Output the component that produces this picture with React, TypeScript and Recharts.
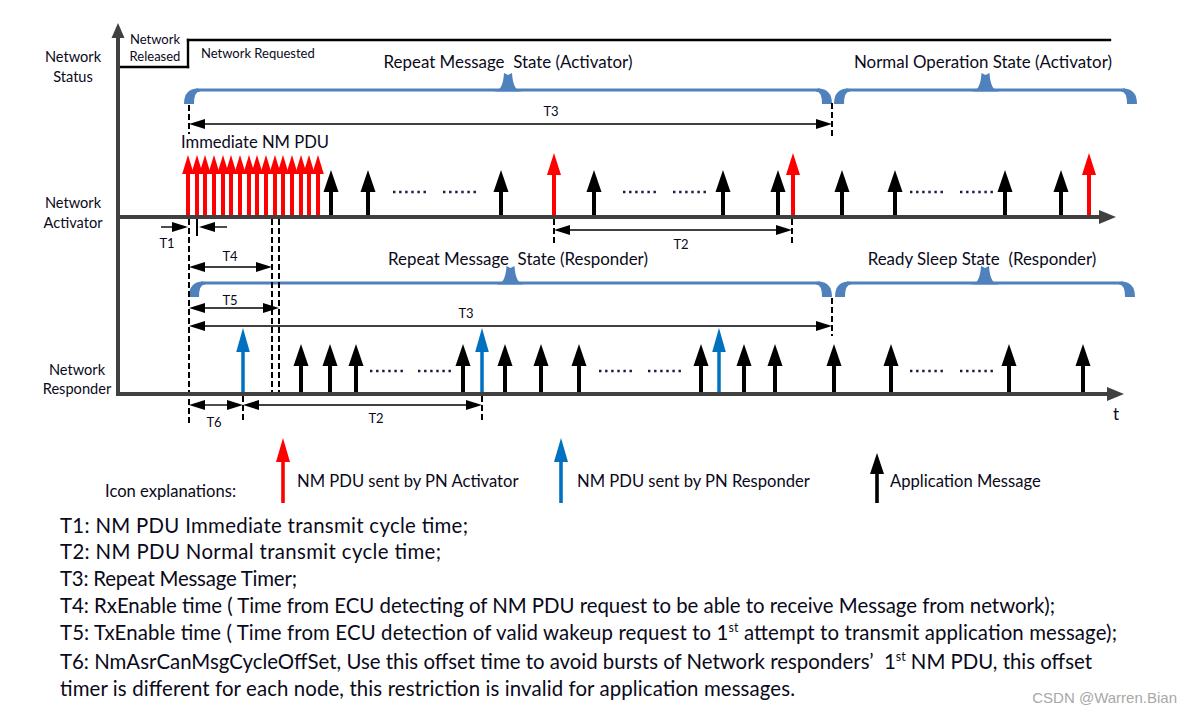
import React from 'react';
import { ComposedChart, XAxis, YAxis, ReferenceLine } from 'recharts';

const CHART_W = 1191;
const CHART_H = 714;

// ===== data: time on x, signal level on y =====
const timeDomain: [number, number] = [0, 1191];
const levelDomain: [number, number] = [0, 714];

const timeOrigin = 118;
const axisTopLevel = 23;
const activatorAxisEnd = 1116;
const responderAxisEnd = 1124;
const laneActivator = 217;
const laneResponder = 394;

// network status step
const statusReleasedLevel = 67;
const statusRequestedLevel = 40;
const statusRequestTime = 188;
const statusEndTime = 1110;

// messages
const immediateNmPdu = [188, 197, 205, 214, 223, 231, 240, 249, 257, 266, 275, 283, 292, 301, 309, 318];
const immediateNmPduTop = 155;
const activatorNmPdu = [554, 793, 1089];
const activatorNmPduTop = 153;
const activatorAppMsg = [331, 368, 501, 594, 723, 778, 842, 895, 1005, 1061];
const activatorAppMsgTop = 170;
const responderNmPdu = [243, 482, 719];
const responderNmPduTop = 328;
const responderAppMsg = [301, 330, 356, 463, 505, 541, 579, 701, 744, 775, 834, 891, 1009, 1083];
const responderAppMsgTop = 344;

// "......" gaps
const activatorGapStart = [393, 443, 623, 673, 910, 960];
const activatorGapEnd = [427, 477, 657, 707, 943, 993];
const activatorGapLevel = 192;
const responderGapStart = [370, 418, 599, 648, 910, 960];
const responderGapEnd = [403, 452, 632, 681, 943, 993];
const responderGapLevel = 371;

// states (braces)
const stateNames = [
  'Repeat Message  State (Activator)',
  'Normal Operation State (Activator)',
  'Repeat Message  State (Responder)',
  'Ready Sleep State  (Responder)',
];
const stateStart = [184, 834, 189, 835];
const stateEnd = [832, 1137, 832, 1135];
const stateLevel = [90, 90, 283, 283];
const stateLabelTime = [508, 983, 518, 982];
const stateLabelLevel = [68, 68, 265, 265];

// timers
const timerNames = ['T3', 'T2', 'T4', 'T5', 'T3', 'T6', 'T2'];
const timerStart = [189, 554, 189, 189, 189, 189, 243];
const timerEnd = [832, 792, 272, 279, 832, 243, 482];
const timerLevel = [124, 230, 267, 308, 326, 405, 405];
const timerLabelTime = [551, 681, 230, 230, 466, 214, 376];
const timerLabelLevel = [116, 249, 261, 305, 318, 427, 423];
const t1Start = 189;
const t1End = 197;
const t1Level = 227;
const t1LabelTime = 167;
const t1LabelLevel = 248;

// dashed time markers
const markerTime = [189, 189, 832, 832, 554, 792, 272, 279, 243, 482];
const markerFrom = [105, 219, 103, 298, 219, 219, 219, 219, 396, 396];
const markerTo = [134, 424, 139, 336, 244, 244, 392, 392, 423, 423];

// lane labels
const laneLabelLines = ['Network', 'Status', 'Network', 'Activator', 'Network', 'Responder'];
const laneLabelTime = [73, 73, 73, 73, 77, 77];
const laneLabelLevel = [62, 82, 208, 228, 375, 394];

// legend
const legendLabels = ['NM PDU sent by PN Activator', 'NM PDU sent by PN Responder', 'Application Message'];
const legendTime = [283, 561, 877];
const legendTop = [438, 438, 453];
const legendBaseLevel = 503;
const legendLabelTime = [297, 577, 890];
const legendLabelLevel = 487;

// notes
const notePlain = [
  'T1: NM PDU Immediate transmit cycle time;',
  'T2: NM PDU Normal transmit cycle time;',
  'T3: Repeat Message Timer;',
  'T4: RxEnable time ( Time from ECU detecting of NM PDU request to be able to receive Message from network);',
];
const noteT5 = ['T5: TxEnable time ( Time from ECU detection of valid wakeup request to 1', 'st', ' attempt to transmit application message);'];
const noteT6 = ['T6: NmAsrCanMsgCycleOffSet, Use this offset time to avoid bursts of Network responders\u2019  1', 'st', ' NM PDU, this offset'];
const noteLast = 'timer is different for each node, this restriction is invalid for application messages.';
const noteLevels = [533, 559, 586, 613, 640, 669, 696];
const noteWidths = [408, 381, 237, 995, 1057, 1032, 735];

// ===== styles =====
const FONT = 'Lato, "Open Sans", sans-serif';
const RED = '#FF0000';
const BLUE = '#0070C0';
const BRACE = '#4F81BD';
const AXIS = '#404040';
const INK = '#0a0a1a';

// ===== shapes =====
const arrowShape = (color: string, shaft: number, headLen: number, headHalf: number) => (p: any) => {
  const { x1, y1, x2, y2 } = p;
  const dx = x2 - x1;
  const dy = y2 - y1;
  const len = Math.hypot(dx, dy) || 1;
  const ux = dx / len;
  const uy = dy / len;
  const bx = x2 - ux * headLen;
  const by = y2 - uy * headLen;
  const nx = -uy;
  const ny = ux;
  return (
    <g>
      <line x1={x1} y1={y1} x2={bx + ux} y2={by + uy} stroke={color} strokeWidth={shaft} />
      <polygon
        points={`${x2},${y2} ${bx + nx * headHalf},${by + ny * headHalf} ${bx - nx * headHalf},${by - ny * headHalf}`}
        fill={color}
      />
    </g>
  );
};

const dimensionShape = (p: any) => {
  const { x1, y1, x2 } = p;
  const h = 16;
  const w = 5;
  return (
    <g>
      <line x1={x1 + h - 1} y1={y1} x2={x2 - h + 1} y2={y1} stroke="#000" strokeWidth={1.4} />
      <polygon points={`${x1},${y1} ${x1 + h},${y1 - w} ${x1 + h},${y1 + w}`} fill="#000" />
      <polygon points={`${x2},${y1} ${x2 - h},${y1 - w} ${x2 - h},${y1 + w}`} fill="#000" />
    </g>
  );
};

const t1Shape = (p: any) => {
  const { x1, y1, x2 } = p;
  const h = 16;
  const w = 5;
  return (
    <g>
      <line x1={x1 - 28} y1={y1} x2={x1 - h} y2={y1} stroke="#000" strokeWidth={1.4} />
      <polygon points={`${x1 - 1},${y1} ${x1 - 1 - h},${y1 - w} ${x1 - 1 - h},${y1 + w}`} fill="#000" />
      <line x1={x2 + h} y1={y1} x2={x2 + 30} y2={y1} stroke="#000" strokeWidth={1.4} />
      <polygon points={`${x2 + 2},${y1} ${x2 + 2 + h},${y1 - w} ${x2 + 2 + h},${y1 + w}`} fill="#000" />
      <line x1={x2} y1={y1 - 8} x2={x2} y2={y1 + 9} stroke="#000" strokeWidth={2} />
    </g>
  );
};

const dashedShape = (p: any) => (
  <line x1={p.x1} y1={p.y1} x2={p.x2} y2={p.y2} stroke="#000" strokeWidth={2} strokeDasharray="6 3" />
);

const dotsShape = (p: any) => (
  <line x1={p.x1} y1={p.y1} x2={p.x2} y2={p.y2} stroke="#1a1a40" strokeWidth={2.4} strokeDasharray="2.4 3.7" />
);

const statusShape = (p: any) => (
  <line x1={p.x1} y1={p.y1} x2={p.x2} y2={p.y2} stroke="#000" strokeWidth={2.4} strokeLinecap="square" />
);

const braceShape = (p: any) => {
  const { x1, x2, y1: y } = p;
  const xm = (x1 + x2) / 2;
  const d = 14;
  const h = 17;
  const t = 1.5;
  return (
    <g fill={BRACE} stroke="none">
      <rect x={x1 + 12} y={y - t} width={x2 - x1 - 24} height={2 * t} />
      <path d={`M${x1},${y + d} Q${x1},${y - t} ${x1 + 14},${y - t} L${x1 + 16},${y + t} Q${x1 + 10},${y + t} ${x1 + 10},${y + d} Z`} />
      <path d={`M${x2},${y + d} Q${x2},${y - t} ${x2 - 14},${y - t} L${x2 - 16},${y + t} Q${x2 - 10},${y + t} ${x2 - 10},${y + d} Z`} />
      <path d={`M${xm - 14},${y + t} Q${xm - 5},${y + 1} ${xm - 4},${y - h} L${xm},${y - h + 2} L${xm + 4},${y - h} Q${xm + 5},${y + 1} ${xm + 14},${y + t} Z`} />
    </g>
  );
};

const textShape = (
  label: React.ReactNode,
  size: number,
  anchor: string = 'middle',
  color: string = INK,
  family: string = FONT,
  length?: number
) =>
  (p: any) => (
    <text
      x={p.x1}
      y={p.y1}
      fontSize={size}
      fontFamily={family}
      textAnchor={anchor}
      fill={color}
      style={{ whiteSpace: 'pre' }}
      {...(length ? { textLength: length, lengthAdjust: 'spacing' } : {})}
    >
      {label}
    </text>
  );

// ===== element builders =====
let keyN = 0;
const seg = (xa: number, ya: number, xb: number, yb: number, shape: any) => (
  <ReferenceLine
    key={`m${keyN++}`}
    segment={[{ x: xa, y: ya }, { x: xb, y: yb }]}
    ifOverflow="visible"
    shape={shape}
  />
);
const txt = (x: number, y: number, shape: any) => seg(x, y, x, y, shape);

export default function App() {
  keyN = 0;
  const els: React.ReactNode[] = [];

  // network status
  els.push(seg(timeOrigin, statusReleasedLevel, statusRequestTime, statusReleasedLevel, statusShape));
  els.push(seg(statusRequestTime, statusReleasedLevel, statusRequestTime, statusRequestedLevel, statusShape));
  els.push(seg(statusRequestTime, statusRequestedLevel, statusEndTime, statusRequestedLevel, statusShape));

  // braces
  stateNames.forEach((_, i) => els.push(seg(stateStart[i], stateLevel[i], stateEnd[i], stateLevel[i], braceShape)));

  // dashed markers
  markerTime.forEach((t, i) => els.push(seg(t, markerFrom[i], t, markerTo[i], dashedShape)));

  // timers
  timerNames.forEach((_, i) => els.push(seg(timerStart[i], timerLevel[i], timerEnd[i], timerLevel[i], dimensionShape)));
  els.push(seg(t1Start, t1Level, t1End, t1Level, t1Shape));

  // axes
  els.push(seg(timeOrigin, laneResponder, timeOrigin, axisTopLevel, arrowShape(AXIS, 4, 15, 6.5)));
  els.push(seg(timeOrigin - 2, laneActivator, activatorAxisEnd, laneActivator, arrowShape(AXIS, 4.2, 17, 7)));
  els.push(seg(timeOrigin - 2, laneResponder, responderAxisEnd, laneResponder, arrowShape(AXIS, 4.2, 17, 7)));

  // gaps
  activatorGapStart.forEach((s, i) => els.push(seg(s, activatorGapLevel, activatorGapEnd[i], activatorGapLevel, dotsShape)));
  responderGapStart.forEach((s, i) => els.push(seg(s, responderGapLevel, responderGapEnd[i], responderGapLevel, dotsShape)));

  // messages
  activatorAppMsg.forEach((t) => els.push(seg(t, laneActivator - 2, t, activatorAppMsgTop, arrowShape('#000', 4, 22, 7.5))));
  immediateNmPdu.forEach((t) => els.push(seg(t, laneActivator - 2, t, immediateNmPduTop, arrowShape(RED, 4, 19, 5.8))));
  activatorNmPdu.forEach((t) => els.push(seg(t, laneActivator - 2, t, activatorNmPduTop, arrowShape(RED, 4, 22, 7))));
  responderAppMsg.forEach((t) => els.push(seg(t, laneResponder - 2, t, responderAppMsgTop, arrowShape('#000', 4, 22, 7.5))));
  responderNmPdu.forEach((t) => els.push(seg(t, laneResponder - 2, t, responderNmPduTop, arrowShape(BLUE, 3.5, 24, 6.8))));

  // legend arrows
  const legendColors = [RED, BLUE, '#000'];
  legendTime.forEach((t, i) =>
    els.push(seg(t, legendBaseLevel, t, legendTop[i], arrowShape(legendColors[i], 3.6, i === 2 ? 21 : 24, 7)))
  );

  // ===== texts =====
  laneLabelLines.forEach((l, i) => els.push(txt(laneLabelTime[i], laneLabelLevel[i], textShape(l, 14.6))));
  els.push(txt(155, 44, textShape('Network', 13)));
  els.push(txt(155, 61, textShape('Released', 13)));
  els.push(txt(201, 58, textShape('Network Requested', 13, 'start')));
  stateNames.forEach((n, i) => els.push(txt(stateLabelTime[i], stateLabelLevel[i], textShape(n, 16.9))));
  timerNames.forEach((n, i) => els.push(txt(timerLabelTime[i], timerLabelLevel[i], textShape(n, 13))));
  els.push(txt(t1LabelTime, t1LabelLevel, textShape('T1', 13)));
  els.push(txt(255, 148, textShape('Immediate NM PDU', 16.6)));
  els.push(txt(1116, 420, textShape('t', 17)));

  els.push(txt(105, 497, textShape('Icon explanations:', 16.6, 'start')));
  legendLabels.forEach((l, i) => els.push(txt(legendLabelTime[i], legendLabelLevel, textShape(l, 16.6, 'start'))));

  notePlain.forEach((n, i) => els.push(txt(60, noteLevels[i], textShape(n, 20.4, 'start', INK, FONT, noteWidths[i]))));
  const sup = (parts: string[]) => (
    <>
      {parts[0]}
      <tspan dy={-8} fontSize={12.5}>{parts[1]}</tspan>
      <tspan dy={8}>{parts[2]}</tspan>
    </>
  );
  els.push(txt(60, noteLevels[4], textShape(sup(noteT5), 20.4, 'start', INK, FONT, noteWidths[4])));
  els.push(txt(60, noteLevels[5], textShape(sup(noteT6), 20.4, 'start', INK, FONT, noteWidths[5])));
  els.push(txt(60, noteLevels[6], textShape(noteLast, 20.4, 'start', INK, FONT, noteWidths[6])));

  els.push(txt(1177, 703, textShape('CSDN @Warren.Bian', 15, 'end', '#a8a8a8', '"Liberation Sans", Arial, sans-serif')));

  return (
    <div style={{ position: 'absolute', left: 0, top: 0, width: CHART_W, height: CHART_H, background: '#fff' }}>
      <ComposedChart width={CHART_W} height={CHART_H} margin={{ top: 0, right: 0, bottom: 0, left: 0 }} data={[]}>
        <XAxis type="number" dataKey="t" domain={timeDomain} allowDataOverflow hide />
        <YAxis type="number" dataKey="v" domain={levelDomain} allowDataOverflow reversed hide />
        {els}
      </ComposedChart>
    </div>
  );
}
